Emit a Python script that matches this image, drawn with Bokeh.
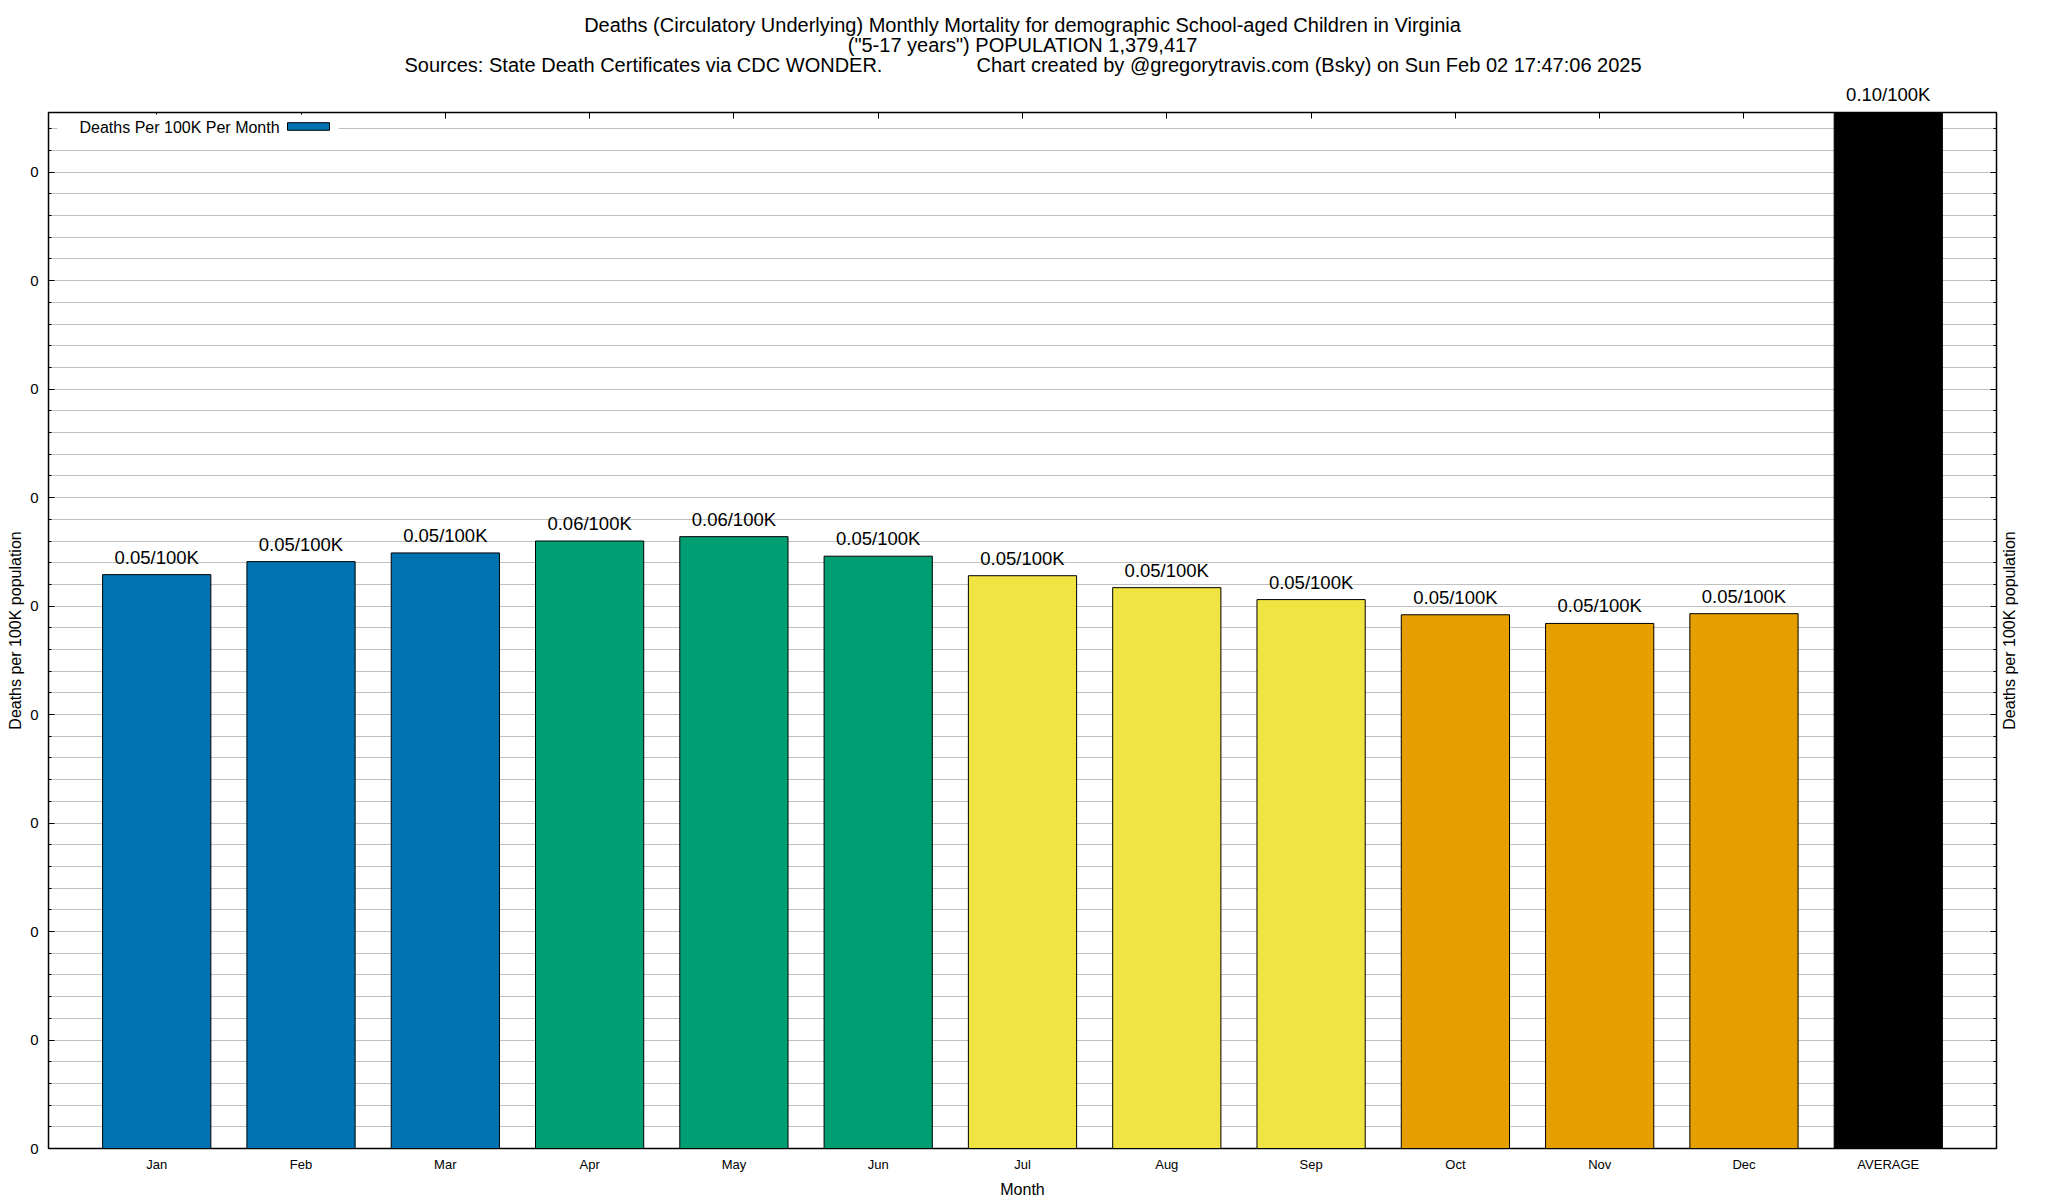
import math
from bokeh.plotting import figure
from bokeh.layouts import column, row
from bokeh.models import (FactorRange, Range1d, ColumnDataSource, LabelSet, Label,
                          SingleIntervalTicker, PrintfTickFormatter, LinearAxis,
                          CategoricalAxis, BoxAnnotation, CustomJSTickFormatter)
from bokeh.core.properties import value
from bokeh.embed import file_html
from bokeh.resources import INLINE

# ---------------- data ----------------
months = ["Jan", "Feb", "Mar", "Apr", "May", "Jun", "Jul", "Aug", "Sep",
          "Oct", "Nov", "Dec", "AVERAGE"]
deaths_per_100k = [0.0529, 0.0541, 0.0549, 0.0560, 0.0564, 0.0546, 0.0528,
                   0.0517, 0.0506, 0.0492, 0.0484, 0.0493, 0.10]
bar_colors = ["#0072B2"] * 3 + ["#009E73"] * 3 + ["#F0E442"] * 3 + ["#E69F00"] * 3 + ["#000000"]
y_max = 0.0955
y_tick_interval = 0.01

title_line1 = "Deaths (Circulatory Underlying) Monthly Mortality for demographic School-aged Children in Virginia"
title_line2 = "(\"5-17 years\") POPULATION 1,379,417"
title_line3a = "Sources: State Death Certificates via CDC WONDER."
title_line3b = "Chart created by @gregorytravis.com (Bsky) on Sun Feb 02 17:47:06 2025"
legend_text = "Deaths Per 100K Per Month"
y_label = "Deaths per 100K population"
x_label = "Month"

FONT = "Liberation Sans"

labels = [f"{v:.2f}/100K" for v in deaths_per_100k]
src = ColumnDataSource(dict(month=months, value=deaths_per_100k, color=bar_colors))
inside = [i for i, v in enumerate(deaths_per_100k) if v <= y_max]
lab_src = ColumnDataSource(dict(month=[months[i] for i in inside],
                                y=[deaths_per_100k[i] for i in inside],
                                label=[labels[i] for i in inside]))
# value labels of bars taller than the frame go on the top axis
top_texts = [lab if v > y_max else "" for v, lab in zip(deaths_per_100k, labels)]

TOTAL_W, TOTAL_H = 2048, 1200
TITLE_H = 80
RIGHT_W = 48
FH = 1036  # frame height of main plot

# ---------------- title strip ----------------
tfig = figure(width=TOTAL_W, height=TITLE_H, x_range=Range1d(0, TOTAL_W), y_range=Range1d(0, TITLE_H),
              x_axis_location=None, y_axis_location=None, output_backend="svg",
              toolbar_location=None, min_border=0)
tfig.outline_line_color = None
tfig.grid.visible = False

def tlab(fig, text, x, y, size, align="center", angle=0.0):
    fig.add_layout(Label(x=x, y=y, x_units="screen", y_units="screen", text=text,
                         text_font=FONT, text_font_size=size, text_align=align,
                         text_baseline="middle", angle=angle, text_color="black"))

CX = 48 + 1948 / 2
tlab(tfig, title_line1, CX, TITLE_H - 24.8, "20px")
tlab(tfig, title_line2, CX, TITLE_H - 44.4, "20px")
tlab(tfig, title_line3a, 404, TITLE_H - 64.0, "20px", align="left")
tlab(tfig, title_line3b, 976, TITLE_H - 64.0, "20px", align="left")

# ---------------- main plot ----------------
MAIN_H = TOTAL_H - TITLE_H
p = figure(width=TOTAL_W - RIGHT_W, height=MAIN_H,
           x_range=FactorRange(factors=months, range_padding=0.25, range_padding_units="absolute"),
           y_range=Range1d(0, y_max),
           output_backend="svg", toolbar_location=None,
           min_border_left=48, min_border_right=4, min_border_top=32, min_border_bottom=52)
p.background_fill_color = "white"
p.border_fill_color = "white"
p.outline_line_color = "black"
p.outline_line_width = 1.5

p.vbar(x="month", top="value", width=0.75, source=src, fill_color="color",
       line_color="black", line_width=1)

p.add_layout(LabelSet(x="month", y="y", text="label", source=lab_src,
                      text_align="center", text_baseline="alphabetic", y_offset=11,
                      text_font=value(FONT), text_font_size=value("18.5px"),
                      text_color="black"))

ticker = SingleIntervalTicker(interval=y_tick_interval, num_minor_ticks=5)

yax = p.yaxis[0]
yax.ticker = ticker
yax.formatter = PrintfTickFormatter(format="%.0f")
yax.major_label_text_font = FONT
yax.major_label_text_font_size = "15px"
yax.major_label_text_color = "black"
yax.major_label_standoff = 10
yax.major_tick_in = 6
yax.major_tick_out = 0
yax.minor_tick_in = 3
yax.minor_tick_out = 0
yax.axis_line_color = "black"
yax.axis_label = y_label
yax.axis_label_text_font = FONT
yax.axis_label_text_font_size = "16px"
yax.axis_label_text_font_style = "normal"
yax.axis_label_text_color = "black"
yax.axis_label_standoff = 3

p.ygrid.ticker = ticker
p.ygrid.grid_line_color = "#c0c0c0"
p.ygrid.minor_grid_line_color = "#c0c0c0"
p.xgrid.grid_line_color = None

xax = p.xaxis[0]
xax.major_label_text_font = FONT
xax.major_label_text_font_size = "13px"
xax.major_label_text_color = "black"
xax.major_label_standoff = 8
xax.major_tick_in = 0
xax.major_tick_out = 0
xax.axis_line_color = "black"
xax.axis_label = x_label
xax.axis_label_text_font = FONT
xax.axis_label_text_font_size = "16px"
xax.axis_label_text_font_style = "normal"
xax.axis_label_text_color = "black"
xax.axis_label_standoff = 6

rax = LinearAxis(ticker=ticker, formatter=PrintfTickFormatter(format=""),
                 major_label_text_color=None, major_label_standoff=0,
                 major_tick_in=6, major_tick_out=0,
                 minor_tick_in=3, minor_tick_out=0, axis_line_color="black")
p.add_layout(rax, "right")

top_fmt = CustomJSTickFormatter(args=dict(cats=months, texts=top_texts),
                                code="const i = cats.indexOf(tick); return i >= 0 ? texts[i] : '';")
tax = CategoricalAxis(major_tick_in=6, major_tick_out=0, major_label_standoff=8,
                      axis_line_color="black", formatter=top_fmt,
                      major_label_text_font=FONT, major_label_text_font_size="18.5px",
                      major_label_text_color="black")
p.add_layout(tax, "above")

# legend (text left of swatch)
p.add_layout(BoxAnnotation(left=9, right=290, bottom=1006, top=1034,
                           left_units="screen", right_units="screen",
                           bottom_units="screen", top_units="screen",
                           fill_color="white", fill_alpha=1.0, line_color=None))
p.add_layout(Label(x=31, y=FH - 15.2, x_units="screen", y_units="screen", text=legend_text,
                   text_font=FONT, text_font_size="16px", text_align="left",
                   text_baseline="middle", text_color="black"))
p.add_layout(BoxAnnotation(left=239, right=281, bottom=FH - 17.8, top=FH - 10.2,
                           left_units="screen", right_units="screen",
                           bottom_units="screen", top_units="screen",
                           fill_color="#0072B2", fill_alpha=1.0,
                           line_color="black", line_width=1, line_alpha=1.0))

# ---------------- right strip (right axis title) ----------------
# this figure's frame is aligned with the main plot's frame by the row layout
rfig = figure(width=RIGHT_W, height=MAIN_H, x_range=Range1d(0, RIGHT_W), y_range=Range1d(0, FH),
              x_axis_location=None, y_axis_location=None, output_backend="svg",
              toolbar_location=None, min_border=0)
rfig.outline_line_color = None
rfig.grid.visible = False
tlab(rfig, y_label, 2008.5 - (TOTAL_W - RIGHT_W), FH / 2, "16px", angle=math.pi / 2)

layout = column(tfig, row(p, rfig, spacing=0), spacing=0)
open("out.html", "w").write(file_html(layout, INLINE))
